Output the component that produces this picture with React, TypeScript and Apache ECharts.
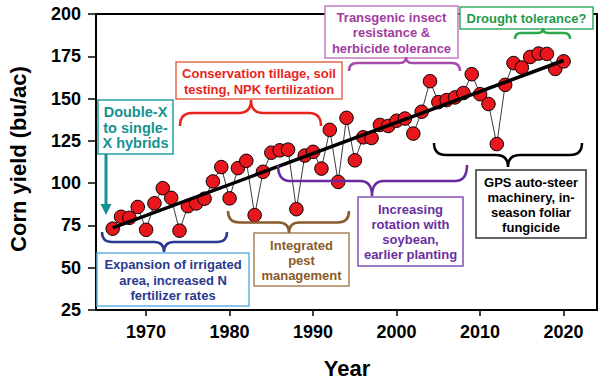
import React, { useEffect, useRef } from "react";
import * as echarts from "echarts";

// ---- data ----
const years = [
  1966, 1967, 1968, 1969, 1970, 1971, 1972, 1973, 1974, 1975, 1976, 1977, 1978, 1979,
  1980, 1981, 1982, 1983, 1984, 1985, 1986, 1987, 1988, 1989, 1990, 1991, 1992, 1993,
  1994, 1995, 1996, 1997, 1998, 1999, 2000, 2001, 2002, 2003, 2004, 2005, 2006, 2007,
  2008, 2009, 2010, 2011, 2012, 2013, 2014, 2015, 2016, 2017, 2018, 2019, 2020,
];
const yields = [
  73.1, 80.1, 79.5, 85.9, 72.4, 88.1, 97.0, 91.3, 71.9, 86.4, 88.0, 90.8, 101.0, 109.5,
  91.0, 108.9, 113.2, 81.1, 106.7, 118.0, 119.4, 119.8, 84.6, 116.3, 118.5, 108.6, 131.5, 100.7,
  138.6, 113.5, 127.1, 126.7, 134.4, 133.8, 136.9, 138.2, 129.3, 142.2, 160.3, 147.9, 149.1, 150.7,
  153.3, 164.4, 152.6, 146.8, 123.1, 158.1, 171.0, 168.4, 174.6, 176.6, 176.4, 167.5, 172.0,
];
const trendYears = [1966, 2020];
const trendYields = [73.5, 172.5];
const xTickValues = [1970, 1980, 1990, 2000, 2010, 2020];

const FONT = "'Liberation Sans', Arial, sans-serif";

// annotation boxes (layout in pixels)
const annotations = [
  { text: "Double-X\nto single-\nX hybrids", color: "#17918f", border: "#23a0a0", box: [98, 100, 75, 54], lh: 15.5, fs: 14.5 },
  { text: "Conservation tillage, soil\ntesting, NPK fertilization", color: "#e8251c", border: "#e46a4a", box: [176, 62, 166, 37], lh: 16, fs: 13 },
  { text: "Transgenic insect\nresistance &\nherbicide tolerance", color: "#a23ba0", border: "#c47cc4", box: [325, 6, 133, 52], lh: 15.5, fs: 13 },
  { text: "Drought tolerance?", color: "#1f9a4a", border: "#3aac66", box: [460, 7, 133, 22], lh: 15, fs: 13 },
  { text: "GPS auto-steer\nmachinery, in-\nseason foliar\nfungicide", color: "#000000", border: "#333333", box: [476, 170, 110, 68], lh: 15, fs: 13 },
  { text: "Increasing\nrotation with\nsoybean,\nearlier planting", color: "#6b2fa0", border: "#8452b4", box: [358, 197, 105, 69], lh: 15, fs: 13 },
  { text: "Integrated\npest\nmanagement", color: "#8a5a2a", border: "#a8825a", box: [254, 233, 95, 53], lh: 15, fs: 13 },
  { text: "Expansion of irrigated\narea, increased N\nfertilizer rates", color: "#2b3990", border: "#62b2e2", box: [97, 253, 152, 53], lh: 15.3, fs: 13 },
];

const braces = [
  { color: "#e8251c", x1: 180, x2: 321, xc: 251, yEnd: 126, yMid: 113, yTip: 100 },
  { color: "#a84aa8", x1: 349, x2: 460, xc: 406, yEnd: 71, yMid: 63, yTip: 57 },
  { color: "#2aa84a", x1: 515, x2: 570, xc: 543, yEnd: 39, yMid: 33, yTip: 28 },
  { color: "#000000", x1: 434, x2: 582, xc: 508, yEnd: 143, yMid: 155, yTip: 167 },
  { color: "#6a2aa0", x1: 278, x2: 467, xc: 372, yEnd: 165, yMid: 181, yTip: 196 },
  { color: "#8a5a2a", x1: 228, x2: 349, xc: 289, yEnd: 211, yMid: 222.5, yTip: 233 },
  { color: "#2b3990", x1: 102, x2: 227, xc: 164, yEnd: 232, yMid: 242, yTip: 252 },
];

let registered = false;
function registerBrace() {
  if (registered) return;
  registered = true;
  const Brace = (echarts.graphic as any).extendShape({
    type: "brace",
    shape: { x1: 0, x2: 0, xc: 0, yEnd: 0, yMid: 0, yTip: 0 },
    buildPath(ctx: any, s: any) {
      const re = Math.min(Math.abs(s.yEnd - s.yMid), 12);
      const rt = Math.min(Math.abs(s.yTip - s.yMid), 12);
      ctx.moveTo(s.x1, s.yEnd);
      ctx.quadraticCurveTo(s.x1, s.yMid, s.x1 + re, s.yMid);
      ctx.lineTo(s.xc - rt, s.yMid);
      ctx.quadraticCurveTo(s.xc, s.yMid, s.xc, s.yTip);
      ctx.quadraticCurveTo(s.xc, s.yMid, s.xc + rt, s.yMid);
      ctx.lineTo(s.x2 - re, s.yMid);
      ctx.quadraticCurveTo(s.x2, s.yMid, s.x2, s.yEnd);
    },
  });
  (echarts.graphic as any).registerShape("brace", Brace);
}

export default function App() {
  const ref = useRef<HTMLDivElement>(null);
  useEffect(() => {
    registerBrace();
    const chart = echarts.init(ref.current!, null, { renderer: "svg" });

    const graphics: any[] = [];
    annotations.forEach((a) => {
      const [x, y, w, h] = a.box;
      graphics.push({
        type: "rect",
        z: 100,
        shape: { x, y, width: w, height: h },
        style: { fill: "#ffffff", stroke: a.border, lineWidth: 1.5 },
      });
      graphics.push({
        type: "text",
        z: 101,
        x: x + w / 2,
        y: y + h / 2 + 0.5,
        style: {
          text: a.text,
          fill: a.color,
          fontFamily: FONT,
          fontWeight: "bold",
          fontSize: a.fs,
          lineHeight: a.lh,
          textAlign: "center",
          textVerticalAlign: "middle",
        },
      });
    });
    braces.forEach((b) => {
      graphics.push({
        type: "brace",
        z: 100,
        shape: { x1: b.x1, x2: b.x2, xc: b.xc, yEnd: b.yEnd, yMid: b.yMid, yTip: b.yTip },
        style: { fill: "none", stroke: b.color, lineWidth: 2.5 },
      });
    });
    // teal arrow
    graphics.push({
      type: "line",
      z: 100,
      shape: { x1: 106, y1: 154, x2: 106, y2: 206 },
      style: { stroke: "#17918f", lineWidth: 3 },
    });
    graphics.push({
      type: "polygon",
      z: 100,
      shape: { points: [[100.5, 204], [111.5, 204], [106, 215]] },
      style: { fill: "#17918f" },
    });
    // axis titles
    graphics.push({
      type: "text",
      z: 100,
      x: 18,
      y: 159,
      rotation: Math.PI / 2,
      style: {
        text: "Corn yield (bu/ac)",
        fill: "#000",
        fontFamily: FONT,
        fontWeight: "bold",
        fontSize: 22,
        textAlign: "center",
        textVerticalAlign: "middle",
      },
    });
    graphics.push({
      type: "text",
      z: 100,
      x: 347,
      y: 368,
      style: {
        text: "Year",
        fill: "#000",
        fontFamily: FONT,
        fontWeight: "bold",
        fontSize: 22,
        textAlign: "center",
        textVerticalAlign: "middle",
      },
    });

    chart.setOption({
      animation: false,
      backgroundColor: "#ffffff",
      grid: {
        left: 96,
        right: 3,
        top: 14,
        bottom: 73,
        show: true,
        borderColor: "#000",
        borderWidth: 2,
      },
      xAxis: {
        type: "value",
        min: 1964,
        max: 2024,
        splitLine: { show: false },
        axisLine: { lineStyle: { color: "#000", width: 2 } },
        axisTick: { show: true, length: 6, lineStyle: { color: "#000", width: 1.5 }, customValues: xTickValues },
        axisLabel: {
          customValues: xTickValues,
          formatter: (v: number) => String(v),
          color: "#000",
          fontFamily: FONT,
          fontWeight: "bold",
          fontSize: 18,
          margin: 13,
        },
      },
      yAxis: {
        type: "value",
        min: 25,
        max: 200,
        interval: 25,
        splitLine: { show: false },
        axisLine: { show: true, lineStyle: { color: "#000", width: 2 } },
        axisTick: { show: true, length: 8, lineStyle: { color: "#000", width: 1.5 } },
        axisLabel: {
          color: "#000",
          fontFamily: FONT,
          fontWeight: "bold",
          fontSize: 18,
          margin: 15,
        },
      },
      series: [
        {
          type: "line",
          z: 2,
          data: years.map((y, i) => [y, yields[i]]),
          symbol: "circle",
          symbolSize: 13.5,
          itemStyle: { color: "#e8161d", borderColor: "#000", borderWidth: 1 },
          lineStyle: { color: "#3a3a3a", width: 1 },
        },
        {
          type: "line",
          z: 3,
          data: trendYears.map((y, i) => [y, trendYields[i]]),
          symbol: "none",
          lineStyle: { color: "#000", width: 3.5 },
        },
      ],
      graphic: { elements: graphics },
    });
    return () => chart.dispose();
  }, []);
  return <div ref={ref} style={{ width: 600, height: 383, position: "absolute", left: 0, top: 0 }} />;
}
